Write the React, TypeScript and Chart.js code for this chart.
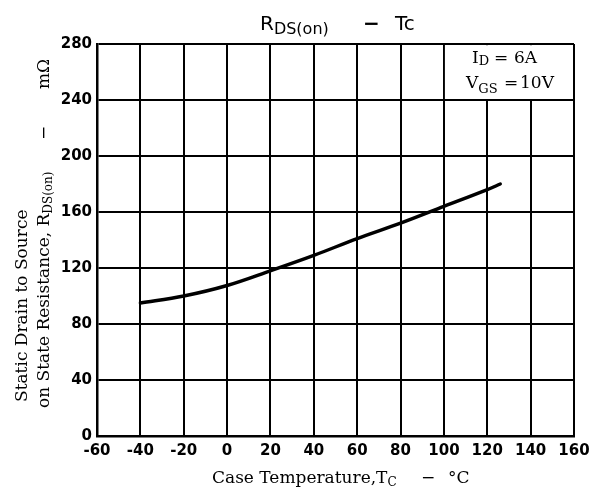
import React, { useEffect, useRef } from "react";
import { Chart, registerables } from "chart.js";

Chart.register(...registerables);

// ---- data ----
const temperatures = [-40, -20, 0, 20, 40, 60, 80, 100, 120, 126];
const resistance = [95, 100, 107.5, 118, 129, 141, 152, 164, 176, 180];
const xTickValues = [-60, -40, -20, 0, 20, 40, 60, 80, 100, 120, 140, 160];
const yTickValues = [0, 40, 80, 120, 160, 200, 240, 280];
const legendCell = { xFrom: 100, xTo: 160, yFrom: 240, yTo: 280 };

const SERIF = '"DejaVu Serif", "Liberation Serif", serif';
const SANS = '"DejaVu Sans", "Liberation Sans", sans-serif';

type Part = { t: string; font: string; x?: number; dy?: number };

function drawParts(ctx: CanvasRenderingContext2D, x0: number, y0: number, parts: Part[]) {
  let cx = x0;
  for (const p of parts) {
    ctx.font = p.font;
    const px = p.x !== undefined ? p.x : cx;
    ctx.fillText(p.t, px, y0 + (p.dy || 0));
    cx = px + ctx.measureText(p.t).width;
  }
}

const overlayPlugin = {
  id: "overlay",
  beforeDatasetsDraw(chart: any) {
    const { ctx, scales } = chart;
    const x = scales.x;
    const y = scales.y;
    const l = x.getPixelForValue(legendCell.xFrom) + 1.0;
    const r = x.getPixelForValue(legendCell.xTo) - 1.2;
    const t = y.getPixelForValue(legendCell.yTo) + 1.2;
    const b = y.getPixelForValue(legendCell.yFrom) - 1.0;
    ctx.save();
    ctx.fillStyle = "#fff";
    ctx.fillRect(l, t, r - l, b - t);
    ctx.restore();
  },
  afterDraw(chart: any) {
    const { ctx } = chart;
    ctx.save();
    ctx.fillStyle = "#000";
    ctx.textBaseline = "alphabetic";
    ctx.textAlign = "left";

    // Title
    drawParts(ctx, 260, 30, [
      { t: "R", font: `20px ${SANS}` },
      { t: "DS(on)", font: `16px ${SANS}`, dy: 4 },
    ]);
    ctx.font = `bold 20px ${SANS}`;
    ctx.fillText("\u2212", 363, 30);
    drawParts(ctx, 395, 30, [{ t: "Tc", font: `20px ${SANS}` }]);

    // Legend text
    drawParts(ctx, 472, 63, [
      { t: "I", font: `17px ${SERIF}` },
      { t: "D", font: `13px ${SERIF}`, dy: 2 },
      { t: "=", font: `17px ${SERIF}`, x: 494 },
      { t: "6A", font: `17px ${SERIF}`, x: 514 },
    ]);
    drawParts(ctx, 466, 88, [
      { t: "V", font: `17px ${SERIF}` },
      { t: "GS", font: `13px ${SERIF}`, dy: 5 },
      { t: "=", font: `17px ${SERIF}`, x: 504 },
      { t: "10V", font: `17px ${SERIF}`, x: 520 },
    ]);

    // X axis title
    drawParts(ctx, 212, 483, [
      { t: "Case Temperature,T", font: `17px ${SERIF}` },
      { t: "C", font: `12px ${SERIF}`, dy: 3 },
      { t: "\u2212", font: `17px ${SERIF}`, x: 421 },
      { t: "\u00b0C", font: `17px ${SERIF}`, x: 448 },
    ]);

    // Y axis title (rotated)
    ctx.save();
    ctx.translate(27, 402);
    ctx.rotate(-Math.PI / 2);
    drawParts(ctx, 0, 0, [{ t: "Static Drain to Source", font: `17px ${SERIF}` }]);
    ctx.restore();

    ctx.save();
    ctx.translate(49, 408);
    ctx.rotate(-Math.PI / 2);
    drawParts(ctx, 0, 0, [
      { t: "on State Resistance, R", font: `17px ${SERIF}` },
      { t: "DS(on)", font: `12px ${SERIF}`, dy: 3 },
      { t: "\u2212", font: `17px ${SERIF}`, x: 268 },
      { t: "m\u03a9", font: `17px ${SERIF}`, x: 319 },
    ]);
    ctx.restore();

    ctx.restore();
  },
};

export default function App() {
  const canvasRef = useRef<HTMLCanvasElement | null>(null);

  useEffect(() => {
    if (!canvasRef.current) return;
    const chart = new Chart(canvasRef.current, {
      type: "line",
      data: {
        datasets: [
          {
            data: temperatures.map((t, i) => ({ x: t, y: resistance[i] })),
            borderColor: "#000",
            borderWidth: 3.4,
            borderCapStyle: "round",
            pointRadius: 0,
            tension: 0.35,
            fill: false,
          },
        ],
      },
      options: {
        animation: false,
        responsive: false,
        maintainAspectRatio: false,
        events: [],
        layout: { padding: { top: 44, right: 16, left: 0, bottom: 0 } },
        plugins: {
          legend: { display: false },
          title: { display: false },
          tooltip: { enabled: false },
        },
        scales: {
          x: {
            type: "linear",
            min: xTickValues[0],
            max: xTickValues[xTickValues.length - 1],
            afterBuildTicks: (scale: any) => {
              scale.ticks = xTickValues.map((v) => ({ value: v }));
            },
            afterFit: (scale: any) => {
              scale.height = 55;
              scale.paddingLeft = 0;
              scale.paddingRight = 0;
            },
            grid: { color: "#000", lineWidth: 2, drawTicks: false },
            border: { color: "#000", width: 2.5 },
            ticks: {
              autoSkip: false,
              maxRotation: 0,
              padding: 6,
              color: "#000",
              font: { family: SANS, size: 15, weight: "bold" },
              callback: (v: any) => String(v),
            },
          },
          y: {
            type: "linear",
            min: yTickValues[0],
            max: yTickValues[yTickValues.length - 1],
            afterBuildTicks: (scale: any) => {
              scale.ticks = yTickValues.map((v) => ({ value: v }));
            },
            afterFit: (scale: any) => {
              scale.width = 97;
              scale.paddingTop = 0;
              scale.paddingBottom = 0;
            },
            grid: { color: "#000", lineWidth: 2, drawTicks: false },
            border: { color: "#000", width: 2.5 },
            ticks: {
              padding: 5,
              color: "#000",
              font: { family: SANS, size: 15, weight: "bold" },
              callback: (v: any) => String(v),
            },
          },
        },
      },
      plugins: [overlayPlugin],
    } as any);
    return () => chart.destroy();
  }, []);

  return (
    <div style={{ position: "absolute", left: 0, top: 0, width: 590, height: 491, background: "#fff" }}>
      <canvas ref={canvasRef} width={590} height={491} style={{ display: "block", width: 590, height: 491 }} />
    </div>
  );
}
